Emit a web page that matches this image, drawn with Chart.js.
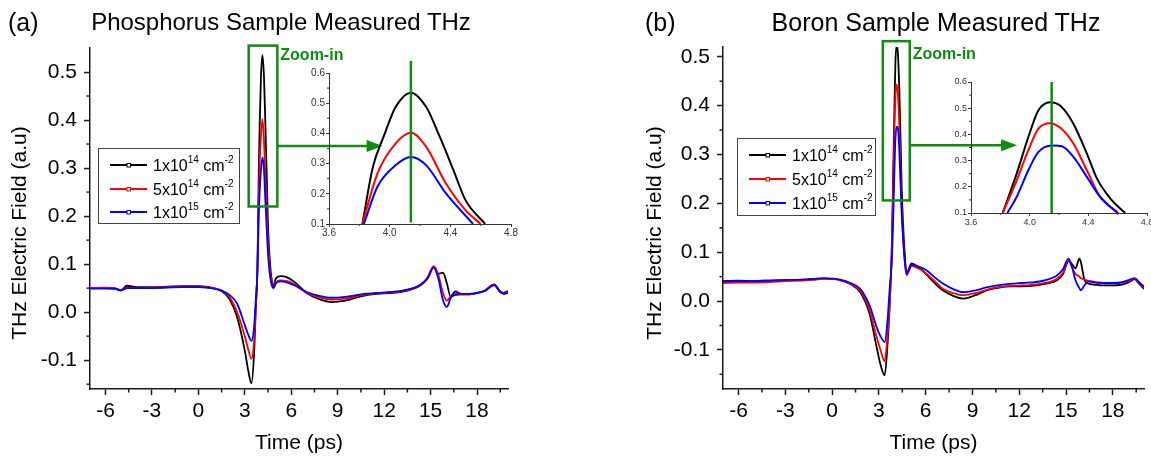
<!DOCTYPE html>
<html>
<head>
<meta charset="utf-8">
<script src="https://cdn.jsdelivr.net/npm/chart.js@4.4.1/dist/chart.umd.min.js"></script>
<style>
  html, body { margin: 0; padding: 0; background: #fff; overflow: hidden; }
  #stage { position: relative; width: 1151px; height: 458px; overflow: hidden;
           font-family: 'Liberation Sans', Arial, sans-serif; }
  #stage canvas { position: absolute; }
  .ttl { position: absolute; font-size: 25px; line-height: 1; color: #000; white-space: nowrap; }
  .mid { transform: translateX(-50%); }
</style>
</head>
<body>
<div id="stage">
  <canvas id="mainA" width="575" height="458" style="left:0;top:0"></canvas>
  <canvas id="mainB" width="521" height="458" style="left:630px;top:0"></canvas>
  <canvas id="insetA" width="230" height="190" style="left:294px;top:55px"></canvas>
  <canvas id="insetB" width="225" height="170" style="left:936px;top:62px"></canvas>
  <div class="ttl" style="left:8px;top:10px">(a)</div>
  <div class="ttl mid" style="left:281px;top:10px;font-size:24px">Phosphorus Sample Measured THz</div>
  <div class="ttl" style="left:645px;top:10px">(b)</div>
  <div class="ttl mid" style="left:936px;top:10px">Boron Sample Measured THz</div>
</div>
<script>
// ---------- series labels and colours ----------
const seriesNames = ['1x10', '5x10', '1x10'];
const seriesExps  = ['14', '14', '15'];
const seriesColors = ['#000000', '#ff0000', '#0000ff'];

// ---------- axis ticks ----------
const xTicksMain = [-6, -3, 0, 3, 6, 9, 12, 15, 18];
const xMinorMain = [-4.5, -1.5, 1.5, 4.5, 7.5, 10.5, 13.5, 16.5, 19.5];
const yTicksMain = [-0.1, 0.0, 0.1, 0.2, 0.3, 0.4, 0.5];
const yMinorMain = [-0.15, -0.05, 0.05, 0.15, 0.25, 0.35, 0.45];
const xTicksInset = [3.6, 4.0, 4.4, 4.8];
const xMinorInset = [3.8, 4.2, 4.6];
const yTicksInset = [0.1, 0.2, 0.3, 0.4, 0.5, 0.6];
const yMinorInset = [0.15, 0.25, 0.35, 0.45, 0.55];

// ---------- (a) Phosphorus: time (ps) and field (a.u.) ----------
const timeA = [-7, -6, -5.4, -5, -4.6, -4, -3, -2, -1, 0,
  0.5, 1, 1.5, 2, 2.5, 3, 3.2, 3.43, 3.6, 3.7,
  3.82, 3.9, 3.96, 4.04, 4.14, 4.24, 4.33, 4.42, 4.5, 4.63,
  4.75, 4.85, 5.0, 5.3, 5.7, 6.2, 7, 7.8, 8.6, 9.5,
  10.5, 11.5, 12.5, 13.5, 14.3, 14.8, 15.2, 15.5, 15.8, 16.05,
  16.3, 16.6, 17, 17.5, 18, 18.5, 19.1, 19.5, 19.7, 20];
const phosLow = [0.050, 0.050, 0.049, 0.046, 0.055, 0.052, 0.052, 0.053, 0.054, 0.054,
  0.053, 0.050, 0.044, 0.028, -0.010, -0.080, -0.118, -0.148, -0.085, 0.000,
  0.100, 0.290, 0.389, 0.488, 0.535, 0.488, 0.389, 0.279, 0.179, 0.100,
  0.065, 0.052, 0.070, 0.075, 0.073, 0.063, 0.040, 0.027, 0.021, 0.024,
  0.033, 0.038, 0.040, 0.045, 0.055, 0.070, 0.094, 0.080, 0.082, 0.060,
  0.032, 0.036, 0.037, 0.037, 0.040, 0.045, 0.058, 0.042, 0.038, 0.040];
const phosMid = [0.050, 0.051, 0.050, 0.046, 0.051, 0.050, 0.051, 0.052, 0.053, 0.053,
  0.052, 0.050, 0.045, 0.032, 0.000, -0.050, -0.075, -0.097, -0.060, 0.005,
  0.100, 0.240, 0.310, 0.367, 0.402, 0.356, 0.280, 0.205, 0.150, 0.085,
  0.060, 0.050, 0.062, 0.066, 0.065, 0.058, 0.040, 0.031, 0.026, 0.028,
  0.035, 0.039, 0.041, 0.046, 0.056, 0.072, 0.096, 0.078, 0.040, 0.024,
  0.033, 0.040, 0.037, 0.037, 0.040, 0.044, 0.056, 0.043, 0.040, 0.043];
const phosHigh = [0.049, 0.049, 0.049, 0.045, 0.050, 0.050, 0.050, 0.051, 0.052, 0.052,
  0.051, 0.049, 0.045, 0.036, 0.018, -0.027, -0.045, -0.060, -0.030, 0.020,
  0.090, 0.200, 0.250, 0.295, 0.322, 0.295, 0.230, 0.170, 0.120, 0.075,
  0.055, 0.050, 0.060, 0.064, 0.062, 0.056, 0.042, 0.034, 0.030, 0.032,
  0.037, 0.040, 0.042, 0.047, 0.056, 0.070, 0.093, 0.070, 0.025, 0.011,
  0.030, 0.043, 0.038, 0.038, 0.040, 0.044, 0.057, 0.042, 0.040, 0.044];

// (a) peak close-up
const peakTimeA1 = [3.82, 3.89, 3.96, 4.04, 4.14, 4.24, 4.33, 4.42, 4.5, 4.63];
const peakValA1  = [0.100, 0.290, 0.389, 0.488, 0.535, 0.488, 0.389, 0.279, 0.179, 0.100];
const peakTimeA2 = [3.82, 3.92, 4.04, 4.14, 4.24, 4.37, 4.5, 4.6];
const peakValA2  = [0.100, 0.268, 0.367, 0.402, 0.356, 0.235, 0.146, 0.100];
const peakTimeA3 = [3.83, 3.92, 4.04, 4.14, 4.24, 4.37, 4.55];
const peakValA3  = [0.100, 0.224, 0.295, 0.322, 0.295, 0.202, 0.100];

// ---------- (b) Boron: time (ps) and field (a.u.) ----------
const timeB = [-7, -6, -5, -4, -3, -2, -1, -0.5, 0, 0.5,
  1.1, 1.8, 2.4, 2.85, 3.1, 3.37, 3.55, 3.7, 3.82, 3.91,
  3.99, 4.06, 4.14, 4.21, 4.3, 4.39, 4.46, 4.55, 4.65, 4.77,
  5.1, 5.5, 6.0, 6.6, 7.1, 7.8, 8.4, 9.2, 9.9, 10.6,
  11.4, 12.2, 13.1, 13.8, 14.4, 14.8, 15.16, 15.4, 15.6, 15.86,
  15.95, 16.2, 16.5, 17.0, 17.4, 18.0, 18.5, 19.1, 19.4, 19.7, 20];
const boronLow = [0.041, 0.042, 0.041, 0.042, 0.043, 0.043, 0.045, 0.046, 0.045, 0.043,
  0.036, 0.018, -0.026, -0.094, -0.130, -0.152, -0.090, 0.000, 0.100, 0.251,
  0.390, 0.492, 0.523, 0.510, 0.441, 0.327, 0.232, 0.156, 0.100, 0.057,
  0.077, 0.070, 0.056, 0.036, 0.022, 0.010, 0.005, 0.012, 0.022, 0.027,
  0.030, 0.030, 0.032, 0.036, 0.042, 0.055, 0.082, 0.075, 0.067, 0.087,
  0.080, 0.042, 0.035, 0.033, 0.032, 0.032, 0.033, 0.040, 0.045, 0.035, 0.025];
const boronMid = [0.037, 0.038, 0.038, 0.039, 0.041, 0.042, 0.044, 0.046, 0.045, 0.043,
  0.036, 0.021, -0.019, -0.073, -0.100, -0.123, -0.070, 0.000, 0.100, 0.225,
  0.340, 0.422, 0.443, 0.426, 0.365, 0.263, 0.190, 0.130, 0.085, 0.053,
  0.072, 0.067, 0.057, 0.040, 0.025, 0.016, 0.012, 0.016, 0.023, 0.028,
  0.031, 0.032, 0.034, 0.038, 0.045, 0.058, 0.083, 0.068, 0.056, 0.050,
  0.047, 0.044, 0.040, 0.037, 0.036, 0.036, 0.037, 0.042, 0.046, 0.037, 0.028];
const boronHigh = [0.040, 0.041, 0.041, 0.042, 0.043, 0.044, 0.046, 0.047, 0.046, 0.044,
  0.038, 0.025, -0.009, -0.053, -0.072, -0.084, -0.040, 0.030, 0.080, 0.162,
  0.263, 0.333, 0.357, 0.355, 0.314, 0.238, 0.180, 0.130, 0.085, 0.056,
  0.074, 0.071, 0.064, 0.048, 0.036, 0.024, 0.018, 0.022, 0.028, 0.032,
  0.035, 0.037, 0.039, 0.044, 0.052, 0.065, 0.087, 0.068, 0.043, 0.026,
  0.022, 0.033, 0.041, 0.038, 0.037, 0.037, 0.038, 0.044, 0.047, 0.038, 0.030];

// (b) peak close-up
const peakTimeB1 = [3.816, 3.912, 3.991, 4.06, 4.139, 4.207, 4.298, 4.39, 4.458, 4.549, 4.651];
const peakValB1  = [0.100, 0.251, 0.390, 0.492, 0.523, 0.510, 0.441, 0.327, 0.232, 0.156, 0.100];
const peakTimeB2 = [3.816, 3.912, 3.991, 4.06, 4.139, 4.207, 4.298, 4.39, 4.48, 4.605];
const peakValB2  = [0.100, 0.225, 0.340, 0.422, 0.443, 0.426, 0.365, 0.263, 0.162, 0.100];
const peakTimeB3 = [3.848, 3.912, 3.991, 4.06, 4.151, 4.22, 4.298, 4.39, 4.48, 4.599];
const peakValB3  = [0.100, 0.162, 0.263, 0.333, 0.358, 0.355, 0.314, 0.238, 0.162, 0.100];

// ---------- shared styling ----------
const FONT = "'Liberation Sans', Arial, sans-serif";
const AXIS = '#1a1a1a';
const GREEN = '#108a10';
Chart.defaults.font.family = FONT;

const pairs = (t, v) => t.map((x, i) => ({ x: x, y: v[i] }));

function makeDatasets(list, width) {
  // blue drawn on top, then red, then black
  return list.map((pts, i) => ({
    data: pts,
    borderColor: seriesColors[i],
    borderWidth: width,
    pointRadius: 0,
    fill: false,
    cubicInterpolationMode: 'monotone',
    order: 2 - i
  }));
}

function line(ctx, x1, y1, x2, y2) {
  ctx.beginPath(); ctx.moveTo(x1, y1); ctx.lineTo(x2, y2); ctx.stroke();
}

function drawLegend(ctx, box) {
  ctx.save();
  ctx.fillStyle = '#fff';
  ctx.fillRect(box.x, box.y, box.w, box.h);
  ctx.strokeStyle = '#444';
  ctx.lineWidth = 1;
  ctx.strokeRect(box.x + 0.5, box.y + 0.5, box.w, box.h);
  ctx.textBaseline = 'alphabetic';
  ctx.textAlign = 'left';
  seriesNames.forEach((name, i) => {
    const ry = Math.round(box.y + box.row0 + i * box.dy);
    ctx.strokeStyle = seriesColors[i];
    ctx.lineWidth = 2;
    line(ctx, box.x + 12, ry, box.x + 49, ry);
    ctx.fillStyle = '#fff';
    ctx.lineWidth = 1;
    ctx.fillRect(box.x + 29, ry - 1.5, 3.5, 3.5);
    ctx.strokeRect(box.x + 29, ry - 1.5, 3.5, 3.5);
    ctx.fillStyle = '#000';
    let tx = box.x + 55;
    const base = ry + 6;
    ctx.font = '16px ' + FONT;
    ctx.fillText(name, tx, base); tx += ctx.measureText(name).width;
    ctx.font = '10px ' + FONT;
    ctx.fillText(seriesExps[i], tx, base - 8); tx += ctx.measureText(seriesExps[i]).width;
    ctx.font = '16px ' + FONT;
    ctx.fillText(' cm', tx, base); tx += ctx.measureText(' cm').width;
    ctx.font = '10px ' + FONT;
    ctx.fillText('-2', tx, base - 8);
  });
  ctx.restore();
}

// decorations for a main panel: minor ticks, axis titles, legend, zoom box and arrow
function mainDecor(cfg) {
  return {
    id: 'mainDecor',
    afterDraw(chart) {
      const { ctx, chartArea: a, scales: { x, y } } = chart;
      ctx.save();
      ctx.strokeStyle = AXIS;
      ctx.lineWidth = 1.5;
      xMinorMain.forEach(v => { const p = x.getPixelForValue(v); line(ctx, p, a.bottom, p, a.bottom + 3.5); });
      yMinorMain.forEach(v => { const p = y.getPixelForValue(v); line(ctx, a.left - 3.5, p, a.left, p); });

      // axis titles
      ctx.fillStyle = '#000';
      ctx.font = '21px ' + FONT;
      ctx.textAlign = 'center';
      ctx.textBaseline = 'middle';
      ctx.fillText('Time (ps)', (a.left + a.right) / 2, 443);
      ctx.save();
      ctx.translate(cfg.yTitleX, 233);
      ctx.rotate(-Math.PI / 2);
      ctx.fillText('THz Electric Field (a.u)', 0, 0);
      ctx.restore();

      drawLegend(ctx, cfg.legend);

      // zoom box around the main peak
      const z = cfg.zoom;
      const x0 = x.getPixelForValue(z.t0), x1 = x.getPixelForValue(z.t1);
      const y0 = y.getPixelForValue(z.v1), y1 = y.getPixelForValue(z.v0);
      ctx.strokeStyle = GREEN;
      ctx.lineWidth = 2.5;
      ctx.strokeRect(x0, y0, x1 - x0, y1 - y0);

      // arrow pointing to the close-up
      const ay = y.getPixelForValue(z.arrowV);
      const tip = x.getPixelForValue(z.arrowT);
      line(ctx, x1, ay, tip - 12, ay);
      ctx.fillStyle = GREEN;
      ctx.beginPath();
      ctx.moveTo(tip, ay); ctx.lineTo(tip - 16, ay - 6); ctx.lineTo(tip - 16, ay + 6);
      ctx.closePath(); ctx.fill();

      ctx.font = 'bold 16px ' + FONT;
      ctx.textAlign = 'left';
      ctx.textBaseline = 'middle';
      ctx.fillText('Zoom-in', x1 + 3, cfg.zoomTextY);
      ctx.restore();
    }
  };
}

// decorations for a close-up: minor ticks and the peak-position marker
function insetDecor(cfg) {
  return {
    id: 'insetDecor',
    afterDraw(chart) {
      const { ctx, chartArea: a, scales: { x, y } } = chart;
      ctx.save();
      ctx.strokeStyle = '#333';
      ctx.lineWidth = 1;
      xMinorInset.forEach(v => { const p = x.getPixelForValue(v); line(ctx, p, a.bottom, p, a.bottom + 2); });
      yMinorInset.forEach(v => { const p = y.getPixelForValue(v); line(ctx, a.left - 2, p, a.left, p); });
      const px = x.getPixelForValue(cfg.markT);
      ctx.strokeStyle = GREEN;
      ctx.lineWidth = 2.5;
      line(ctx, px, y.getPixelForValue(cfg.markTop), px, y.getPixelForValue(cfg.markBottom));
      ctx.restore();
    }
  };
}

function mainChart(id, pointsList, cfg) {
  return new Chart(document.getElementById(id), {
    type: 'line',
    data: { datasets: makeDatasets(pointsList, 1.8) },
    options: {
      responsive: false, animation: false, devicePixelRatio: 1,
      layout: { padding: { left: 0, top: cfg.top, right: cfg.right, bottom: 0 } },
      plugins: { legend: { display: false }, tooltip: { enabled: false } },
      scales: {
        x: {
          type: 'linear', min: -7, max: 20,
          afterFit: s => { s.height = 69; },
          afterBuildTicks: s => { s.ticks = xTicksMain.map(v => ({ value: v })); },
          ticks: { font: { size: 21 }, color: '#000', padding: 4, maxRotation: 0, callback: v => String(v) },
          grid: { drawOnChartArea: false, tickLength: 6, tickColor: AXIS, tickWidth: 1.5 },
          border: { color: AXIS, width: 1.5 }
        },
        y: {
          type: 'linear', min: cfg.yMin, max: cfg.yMax,
          afterFit: s => { s.width = cfg.yWidth; },
          afterBuildTicks: s => { s.ticks = yTicksMain.map(v => ({ value: v })); },
          ticks: { font: { size: 21 }, color: '#000', padding: 7, callback: v => v.toFixed(1) },
          grid: { drawOnChartArea: false, tickLength: 6, tickColor: AXIS, tickWidth: 1.5 },
          border: { color: AXIS, width: 1.5 }
        }
      }
    },
    plugins: [mainDecor(cfg)]
  });
}

function insetChart(id, pointsList, cfg) {
  return new Chart(document.getElementById(id), {
    type: 'line',
    data: { datasets: makeDatasets(pointsList, 2) },
    options: {
      responsive: false, animation: false, devicePixelRatio: 1,
      layout: { padding: { left: 0, top: cfg.top, right: cfg.right, bottom: 0 } },
      plugins: { legend: { display: false }, tooltip: { enabled: false } },
      scales: {
        x: {
          type: 'linear', min: 3.6, max: 4.8,
          afterFit: s => { s.height = cfg.xHeight; },
          afterBuildTicks: s => { s.ticks = xTicksInset.map(v => ({ value: v })); },
          ticks: { font: { size: cfg.font }, color: '#333', padding: cfg.xPad, maxRotation: 0, callback: v => v.toFixed(1) },
          grid: { drawOnChartArea: false, tickLength: 3, tickColor: '#333', tickWidth: 1 },
          border: { color: '#333', width: 1 }
        },
        y: {
          type: 'linear', min: 0.1, max: 0.6,
          afterFit: s => { s.width = 35; },
          afterBuildTicks: s => { s.ticks = yTicksInset.map(v => ({ value: v })); },
          ticks: { font: { size: cfg.font }, color: '#333', padding: 1, callback: v => v.toFixed(1) },
          grid: { drawOnChartArea: false, tickLength: 3, tickColor: '#333', tickWidth: 1 },
          border: { color: '#333', width: 1 }
        }
      }
    },
    plugins: [insetDecor(cfg)]
  });
}

mainChart('mainA', [pairs(timeA, phosLow), pairs(timeA, phosMid), pairs(timeA, phosHigh)], {
  top: 48, right: 67, yWidth: 90, yMin: -0.16, yMax: 0.55, yTitleX: 20,
  legend: { x: 98, y: 148, w: 141, h: 75, row0: 17, dy: 23.5 },
  zoom: { t0: 3.25, t1: 5.1, v0: 0.22, v1: 0.555, arrowV: 0.346, arrowT: 11.9 },
  zoomTextY: 56
});

mainChart('mainB', [pairs(timeB, boronLow), pairs(timeB, boronMid), pairs(timeB, boronHigh)], {
  top: 47, right: 7, yWidth: 93, yMin: -0.18, yMax: 0.52, yTitleX: 25,
  legend: { x: 107, y: 138, w: 138, h: 77, row0: 17, dy: 24 },
  zoom: { t0: 3.25, t1: 4.98, v0: 0.206, v1: 0.532, arrowV: 0.319, arrowT: 11.86 },
  zoomTextY: 55
});

insetChart('insetA', [pairs(peakTimeA1, peakValA1), pairs(peakTimeA2, peakValA2), pairs(peakTimeA3, peakValA3)], {
  top: 18, right: 13, xHeight: 21, font: 10, xPad: 0,
  markT: 4.14, markTop: 0.64, markBottom: 0.105
});

insetChart('insetB', [pairs(peakTimeB1, peakValB1), pairs(peakTimeB2, peakValB2), pairs(peakTimeB3, peakValB3)], {
  top: 20, right: 14, xHeight: 19, font: 9, xPad: 1,
  markT: 4.15, markTop: 0.6, markBottom: 0.1
});
</script>
</body>
</html>
